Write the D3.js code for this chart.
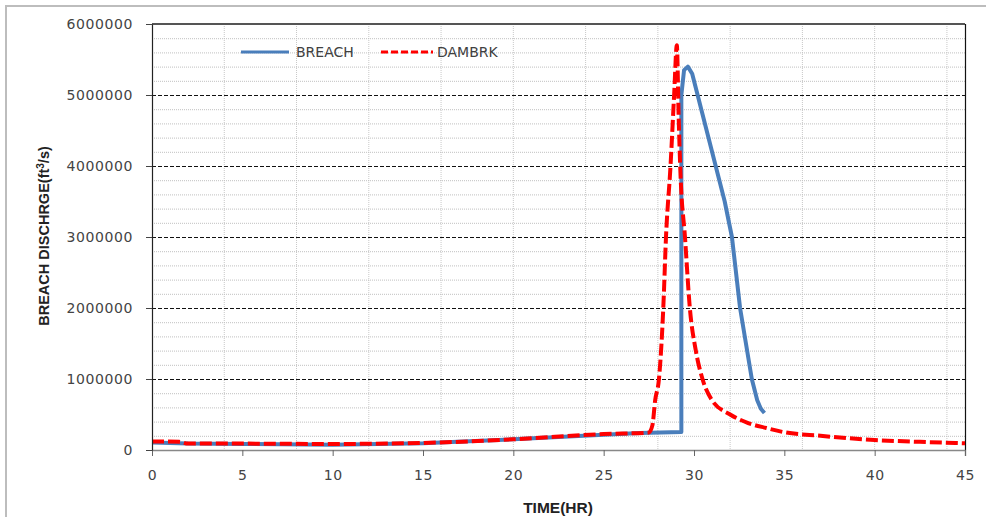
<!DOCTYPE html>
<html>
<head>
<meta charset="utf-8">
<script src="https://d3js.org/d3.v7.min.js"></script>
<style>
  body { margin: 0; background: #fff; }
  svg { display: block; }
  .tick text { font-family: 'DejaVu Sans', sans-serif; font-size: 14px; fill: #444; letter-spacing: 0.6px; }
  .lbl { font-family: 'Liberation Sans', Arial, sans-serif; font-weight: bold; font-size: 14.5px; fill: #222; }
  .leg { font-family: 'DejaVu Sans', sans-serif; font-size: 14px; fill: #404040; }
</style>
</head>
<body>
<script>
// BREACH model output (hours, ft3/s)
const breachTime = [0, 2, 5, 10, 15, 20, 25, 27, 29.3, 29.3, 29.45, 29.66, 29.9, 30.2, 30.7, 31.2, 31.7, 32.1, 32.55, 33.2, 33.5, 33.7, 33.9];
const breachFlow = [105000, 90000, 85000, 75000, 95000, 150000, 215000, 240000, 255000, 5000000, 5350000, 5400000, 5300000, 5000000, 4500000, 4000000, 3500000, 3000000, 2000000, 1000000, 700000, 580000, 520000];

// DAMBRK model output
const dambrkTime = [0, 1.5, 2, 5, 10, 15, 20, 25, 27.5, 27.7, 27.85, 28.06, 28.3, 28.45, 28.7, 28.9, 29.05, 29.15, 29.25, 29.5, 29.77, 30.1, 30.47, 31, 32, 33, 34, 35, 37, 40, 42.5, 45];
const dambrkFlow = [120000, 115000, 90000, 90000, 85000, 100000, 150000, 225000, 245000, 350000, 700000, 1000000, 2000000, 3000000, 4000000, 5000000, 5700000, 4700000, 3900000, 3000000, 2000000, 1400000, 1000000, 700000, 500000, 380000, 310000, 250000, 200000, 140000, 115000, 95000];

const xTicks = [0, 5, 10, 15, 20, 25, 30, 35, 40, 45];
const xGrid = [4, 8, 12, 16, 20, 24, 28, 32, 36, 40, 44];
const yTicks = [0, 1000000, 2000000, 3000000, 4000000, 5000000, 6000000];
const yMinor = d3.range(200000, 6000000, 200000).filter(v => v % 1000000 !== 0);

const W = 986, H = 517;
const m = { left: 152, right: 21, top: 24, bottom: 67 };
const svg = d3.select('body').append('svg').attr('width', W).attr('height', H);

// outer chart frame
svg.append('path').attr('d', `M6,${H} L6,6 L${W},6`).attr('fill', 'none').attr('stroke', '#bdbdbd').attr('stroke-width', 2);

const x = d3.scaleLinear().domain([0, 45]).range([m.left, W - m.right]);
const y = d3.scaleLinear().domain([0, 6000000]).range([H - m.bottom, m.top]);

const grid = svg.append('g');
grid.selectAll('.vg').data(xGrid).join('line')
  .attr('x1', d => x(d)).attr('x2', d => x(d)).attr('y1', y(6000000)).attr('y2', y(0))
  .attr('stroke', '#c8c8c8').attr('stroke-width', 1).attr('stroke-dasharray', '1,1');
grid.selectAll('.hm').data(yMinor).join('line')
  .attr('x1', x(0)).attr('x2', x(45)).attr('y1', d => y(d) + 0.5).attr('y2', d => y(d) + 0.5)
  .attr('stroke', '#c0c0c0').attr('stroke-width', 1).attr('stroke-dasharray', '1,1');
grid.selectAll('.hM').data(yTicks.filter(v => v > 0 && v < 6000000)).join('line')
  .attr('x1', x(0)).attr('x2', x(45)).attr('y1', d => y(d) + 0.5).attr('y2', d => y(d) + 0.5)
  .attr('stroke', '#111').attr('stroke-width', 1).attr('stroke-dasharray', '4,2');

// plot frame
svg.append('line').attr('x1', x(0)).attr('x2', x(45)).attr('y1', y(6000000)).attr('y2', y(6000000))
  .attr('stroke', '#555').attr('stroke-width', 2);
svg.append('line').attr('x1', x(45) + 0.5).attr('x2', x(45) + 0.5).attr('y1', y(6000000)).attr('y2', y(0) + 6)
  .attr('stroke', '#111').attr('stroke-width', 1.2);

const line = d3.line().x(d => x(d[0])).y(d => y(d[1]));
const breach = breachTime.map((t, i) => [t, breachFlow[i]]);
const dambrk = dambrkTime.map((t, i) => [t, dambrkFlow[i]]);

svg.append('path').datum(breach).attr('d', line).attr('fill', 'none')
  .attr('stroke', '#4a7ebb').attr('stroke-width', 4).attr('stroke-linejoin', 'round');
svg.append('path').datum(dambrk).attr('d', line.curve(d3.curveMonotoneX)).attr('fill', 'none')
  .attr('stroke', '#ff0000').attr('stroke-width', 4).attr('stroke-dasharray', '12,4').attr('stroke-linejoin', 'round');

// axes
const xAxis = svg.append('g').attr('transform', `translate(0,${y(0)})`)
  .call(d3.axisBottom(x).tickValues(xTicks).tickSize(6).tickSizeOuter(0).tickPadding(14).tickFormat(d3.format('d')));
xAxis.select('.domain').attr('stroke', '#888').attr('stroke-width', 1.5);
xAxis.selectAll('.tick line').attr('stroke', '#666');

const yAxis = svg.append('g').attr('transform', `translate(${x(0)},0)`)
  .call(d3.axisLeft(y).tickValues(yTicks).tickSize(6).tickSizeOuter(0).tickPadding(13).tickFormat(d3.format('d')));
yAxis.select('.domain').attr('stroke', '#222').attr('stroke-width', 1.2);
yAxis.selectAll('.tick line').attr('stroke', '#444');

// axis titles
svg.append('text').attr('class', 'lbl').attr('x', 558).attr('y', 513).attr('text-anchor', 'middle')
  .style('font-size', '15.5px').text('TIME(HR)');
const yl = svg.append('text').attr('class', 'lbl').attr('text-anchor', 'middle')
  .attr('transform', 'translate(49,236) rotate(-90)');
yl.append('tspan').text('BREACH DISCHRGE(ft');
yl.append('tspan').attr('baseline-shift', 'super').attr('font-size', '10px').text('3');
yl.append('tspan').text('/s)');

// legend
const leg = svg.append('g');
leg.append('line').attr('x1', 241).attr('x2', 289).attr('y1', 52).attr('y2', 52).attr('stroke', '#4a7ebb').attr('stroke-width', 3);
leg.append('text').attr('class', 'leg').attr('x', 296).attr('y', 57).text('BREACH');
leg.append('line').attr('x1', 381).attr('x2', 433).attr('y1', 52).attr('y2', 52).attr('stroke', '#ff0000').attr('stroke-width', 3).attr('stroke-dasharray', '7,3');
leg.append('text').attr('class', 'leg').attr('x', 437).attr('y', 57).text('DAMBRK');
</script>
</body>
</html>
